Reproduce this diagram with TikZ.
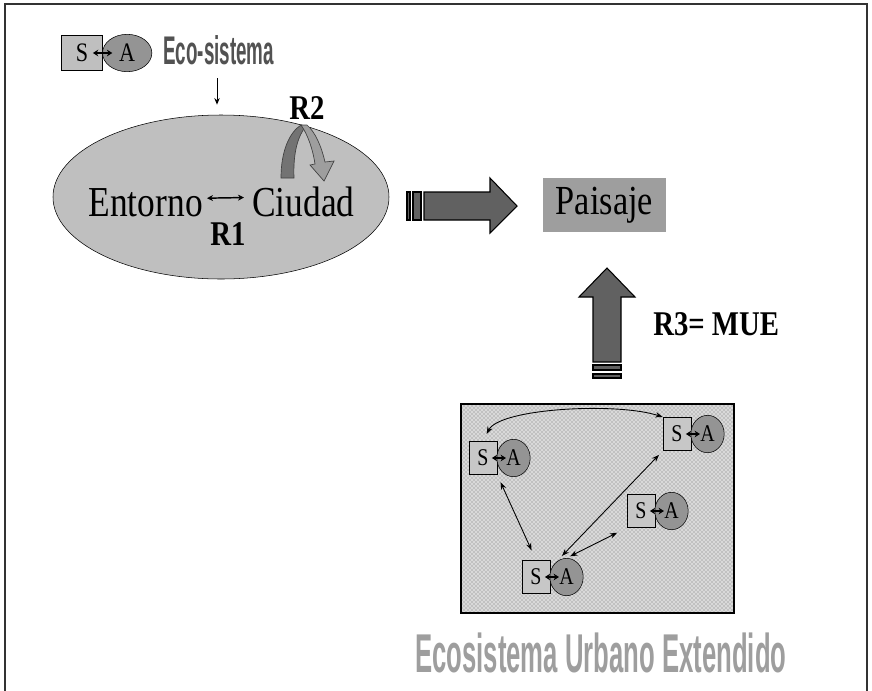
\documentclass[tikz,border=0pt]{standalone}
\usepackage{fontspec}
\setmainfont{Liberation Serif}[FakeStretch=0.83]
\newfontfamily\artfont{Liberation Sans}[FakeStretch=0.47]
\usetikzlibrary{arrows.meta,positioning,shapes.geometric,patterns}

\begin{document}
\begin{tikzpicture}[
	x=0.75pt, y=-0.75pt,
	sbox/.style={rectangle, draw, fill=black!22, minimum width=21pt, minimum height=25pt, inner sep=0pt, font=\fontsize{18}{18}\selectfont},
	aell/.style={ellipse, draw, fill=black!42, minimum width=25pt, minimum height=28pt, inner sep=0pt, font=\fontsize{18}{18}\selectfont},
	pair/.style={{Stealth[length=4pt,width=5pt]}-{Stealth[length=4pt,width=5pt]}, line width=1.5pt},
	link/.style={{Stealth[length=5.5pt,width=4pt]}-{Stealth[length=5.5pt,width=4pt]}, line width=0.65pt},
	bigarrow/.style={draw=black, fill=black!62, line width=0.8pt},
	rlabel/.style={font=\fontsize{26}{26}\selectfont\bfseries, inner sep=0pt},
	word/.style={font=\fontsize{32}{32}\selectfont, inner sep=0pt},
	art/.style={font=\artfont\bfseries\fontsize{30}{30}\selectfont, inner sep=0pt}
]
\useasboundingbox (0,0) rectangle (872,690);
\draw[line width=1.6pt, black!80] (5,700) -- (5,4) -- (867,4) -- (867,700);

\node[sbox, minimum width=31pt, minimum height=26pt, font=\fontsize{20}{20}\selectfont, fill=black!25] (ecoS) at (82,53) {S};
\node[aell, minimum width=37pt, minimum height=28pt, font=\fontsize{20}{20}\selectfont, right=-0.5pt of ecoS] (ecoA) {A};
\draw[pair] ([xshift=-7.5pt]ecoS.east) -- ([xshift=7.5pt]ecoA.west);
\node[art, text=black!68, anchor=base west] (ecotitle) at (163,64) {Eco-sistema};

\node[ellipse, draw, fill=black!25, minimum width=252pt, minimum height=123pt] (city) at (221,197) {};
\node[word, anchor=base east] (entorno) at (203,216) {Entorno};
\node[word, anchor=base west] (ciudad) at (252,216) {Ciudad};
\node[rlabel, anchor=base] (r1) at (228,245) {R1};
\node[rlabel, anchor=base] (r2) at (307,119) {R2};
\coordinate (ecoin) at (217,78);
\draw[-{Stealth[length=5pt,width=4pt]}, line width=0.7pt, shorten >=7.5pt] (ecoin) -- (ecoin |- city.north);
\draw[{Stealth[length=4.5pt,width=4.5pt]}-{Stealth[length=4.5pt,width=4.5pt]}, line width=1.1pt, shorten <=3pt, shorten >=6pt] ([yshift=3pt]entorno.east) -- ([yshift=3pt]ciudad.west);

\draw[draw=black!75, fill=black!55, line width=0.5pt] (281,178) .. controls (281,150) and (290,132) .. (301,125) -- (306,126) .. controls (298,136) and (293,152) .. (294,178) -- cycle;
\draw[draw=black!75, fill=black!38, line width=0.5pt] (301,125) .. controls (308,135) and (313,150) .. (315,164) -- (310,165) -- (324,181) -- (334,161) -- (325,162) .. controls (321,145) and (315,132) .. (307,125) -- cycle;

\node[rectangle, fill=black!38, minimum width=92pt, minimum height=40.5pt, inner sep=0pt, font=\fontsize{31}{31}\selectfont] (paisaje) at (604.5,205) {Paisaje};

\draw[bigarrow] (407,192) rectangle (410,220);
\draw[bigarrow] (413,192) rectangle (421,220);
\draw[bigarrow] (424,192) -- (490,192) -- (490,178) -- (517,206) -- (490,233) -- (490,220) -- (424,220) -- cycle;

\draw[bigarrow] (593,362) -- (593,297) -- (579,297) -- (607,268) -- (635,297) -- (621,297) -- (621,362) -- cycle;
\draw[bigarrow] (593,365) rectangle (621,370);
\draw[bigarrow] (593,374) rectangle (621,378);
\node[rlabel, anchor=base west] (r3) at (653,335) {R3= MUE};

\node[rectangle, draw, line width=1.1pt, preaction={fill=black!15}, pattern=crosshatch dots, pattern color=black!55, minimum width=204.75pt, minimum height=156.75pt] (mue) at (597.5,508.5) {};

\node[sbox] (tlS) at (483,458) {S};
\node[aell, right=-0.5pt of tlS] (tlA) {A};
\node[sbox] (trS) at (677,434) {S};
\node[aell, right=-0.5pt of trS] (trA) {A};
\node[sbox] (mrS) at (641,511) {S};
\node[aell, right=-0.5pt of mrS] (mrA) {A};
\node[sbox] (bS) at (536,577) {S};
\node[aell, right=-0.5pt of bS] (bA) {A};

\draw[pair] ([xshift=-4pt]tlS.east) -- ([xshift=7pt]tlA.west);
\draw[pair] ([xshift=-4pt]trS.east) -- ([xshift=7pt]trA.west);
\draw[pair] ([xshift=-4pt]mrS.east) -- ([xshift=7pt]mrA.west);
\draw[pair] ([xshift=-4pt]bS.east) -- ([xshift=7pt]bA.west);

\draw[link, shorten <=6pt] (tlS.north) .. controls +(17,-33) and +(-45,-15) .. (trS.north west);
\draw[link, shorten <=6pt, shorten >=8pt] (tlS.south east) -- (bS.north);
\draw[link, shorten <=8pt, shorten >=4pt] (bA.north west) -- (trS.south west);
\draw[link, shorten <=3pt, shorten >=8pt] (bA.north) -- (mrS.south west);

\node[art, text=black!38, anchor=base west, font=\artfont\bfseries\fontsize{41}{41}\selectfont] (muetitle) at (415,672) {Ecosistema Urbano Extendido};
\end{tikzpicture}
\end{document}
